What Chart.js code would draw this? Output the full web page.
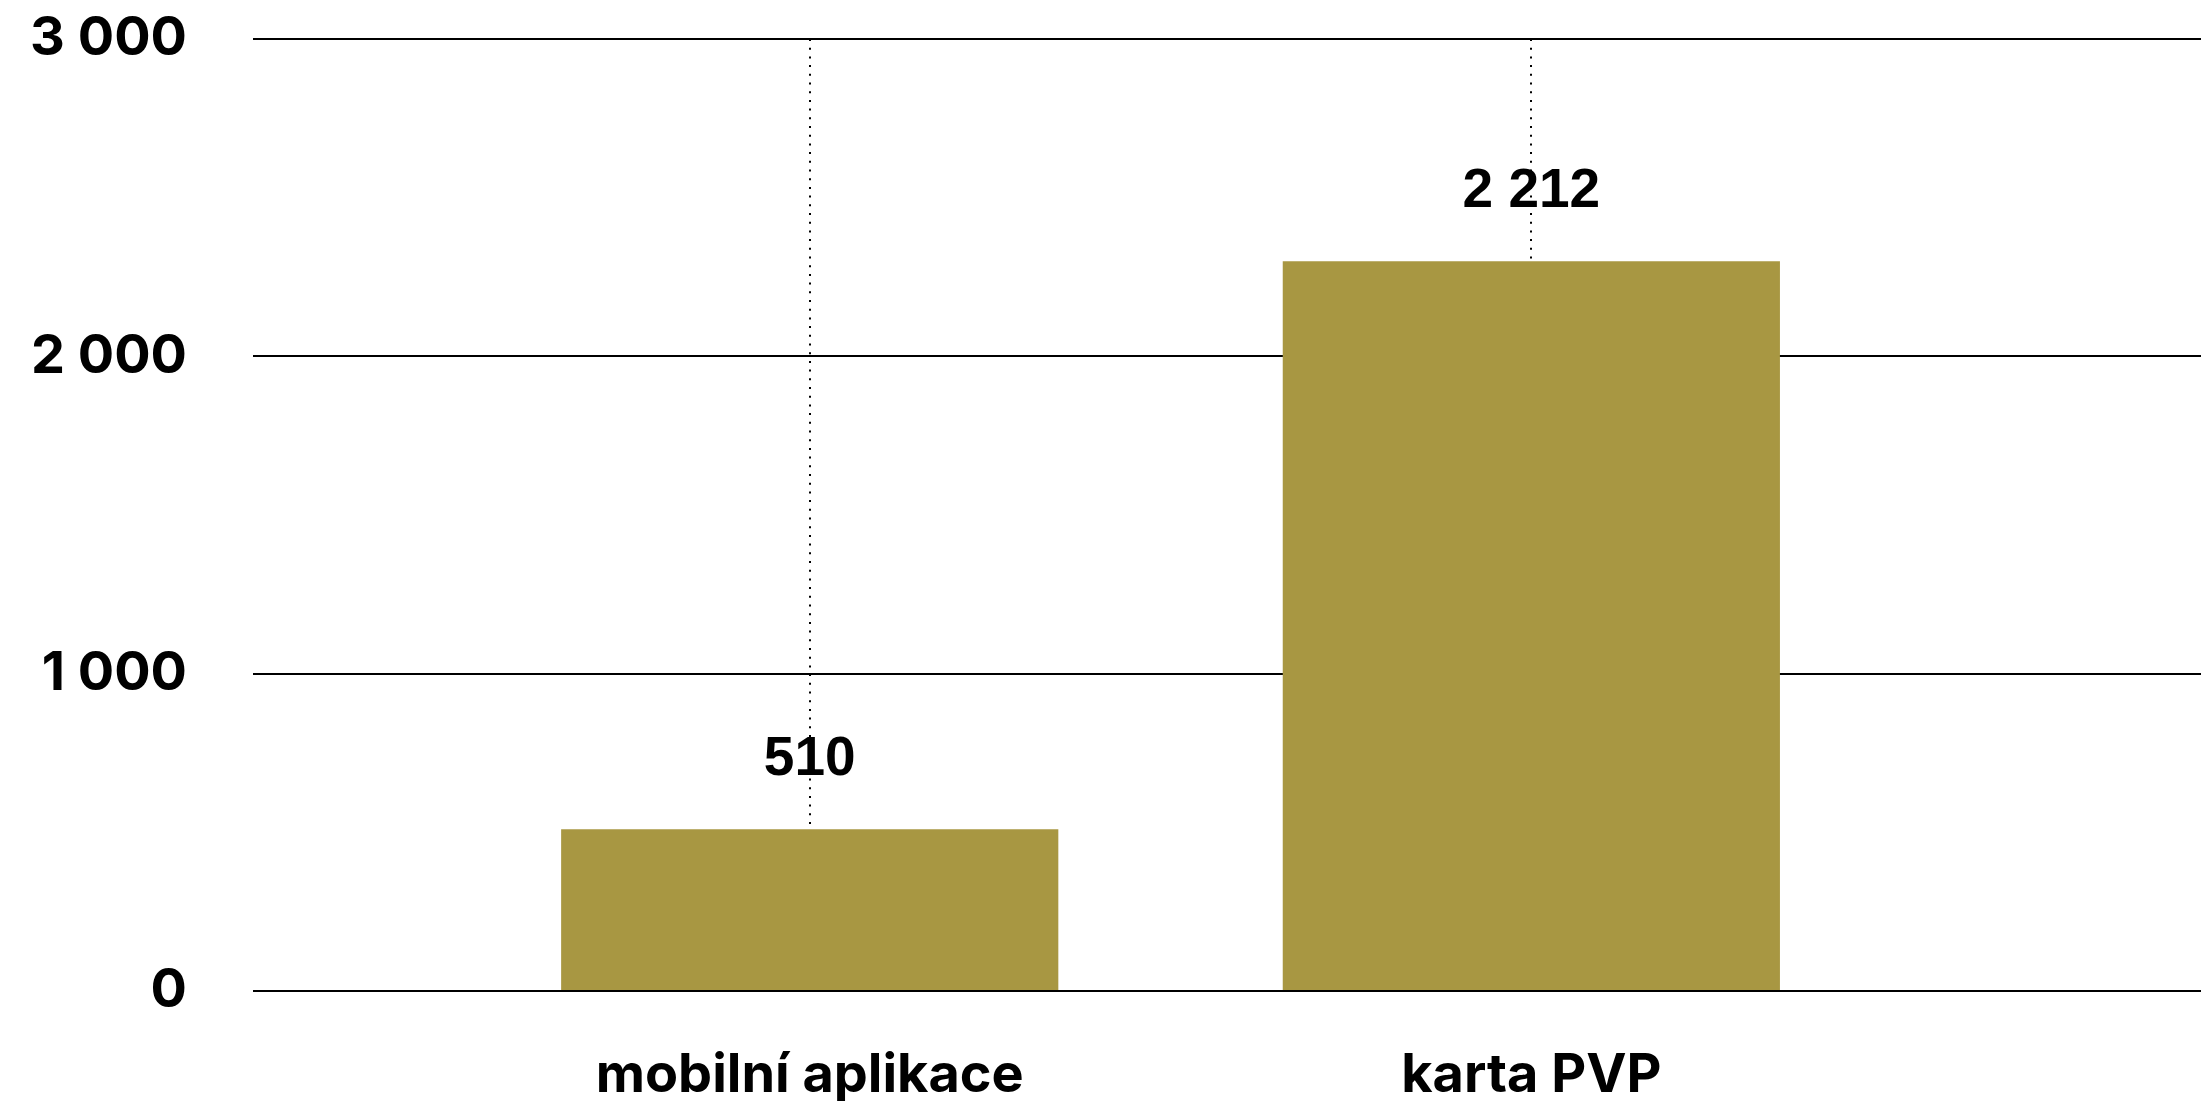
<!DOCTYPE html>
<html>
<head>
<meta charset="utf-8">
<script src="https://cdn.jsdelivr.net/npm/chart.js@4.4.1/dist/chart.umd.min.js"></script>
<style>
	html, body { margin: 0; padding: 0; background: #fff; }
	#wrap { width: 2201px; height: 1101px; position: relative; }
</style>
</head>
<body>
<div id="wrap"><canvas id="channels"></canvas></div>
<script>
const categories = ["mobilní aplikace", "karta PVP"];
const barValues = [510, 2300];
const labelValues = [510, 2212];
const yTicks = [0, 1000, 2000, 3000];

const formatNum = (n) => String(n).replace(/\B(?=(\d{3})+(?!\d))/g, " ");

const valueLabels = {
	id: "valueLabels",
	afterDatasetsDraw(chart) {
		const ctx = chart.ctx;
		const meta = chart.getDatasetMeta(0);
		ctx.save();
		ctx.font = "bold 55px 'Liberation Sans'";
		ctx.fillStyle = "#000";
		ctx.textAlign = "center";
		ctx.textBaseline = "alphabetic";
		meta.data.forEach((bar, i) => {
			ctx.fillText(formatNum(labelValues[i]), bar.x, bar.y - 54);
		});
		ctx.restore();
	},
};

const channelsElem = document.getElementById("channels");

const channels = new Chart(channelsElem, {
	type: "bar",
	data: {
		datasets: [
			{
				data: categories.map((c, i) => ({ x: i + 1, y: barValues[i] })),
				backgroundColor: "#a89742",
				hoverBackgroundColor: "#a89742",
				categoryPercentage: 1,
				barPercentage: 0.689,
			},
		],
	},
	options: {
		responsive: true,
		maintainAspectRatio: false,
		animation: false,
		layout: { padding: { top: 39, left: 0, right: 0, bottom: 0 } },
		plugins: {
			legend: false,
			tooltip: { enabled: false },
		},
		scales: {
			x: {
				type: "linear",
				offset: false,
				min: 0.2285,
				max: 2.928,
				afterFit: (scale) => {
					scale.height = 110;
					scale.paddingLeft = 0;
					scale.paddingRight = 0;
				},
				grid: {
					offset: false,
					color: "#000",
					lineWidth: 2,
					drawTicks: false,
				},
				border: { display: false, dash: [2, 6.7] },
				ticks: {
					stepSize: 1,
					includeBounds: false,
					autoSkip: false,
					maxRotation: 0,
					padding: 52,
					color: "#000",
					font: { family: "Inter", size: 54, weight: "700" },
					callback: (v) => categories[v - 1] ?? "",
				},
			},
			y: {
				min: yTicks[0],
				max: yTicks[yTicks.length - 1],
				afterFit: (scale) => {
					scale.width = 253;
					scale.paddingTop = 0;
					scale.paddingBottom = 0;
				},
				afterBuildTicks: (scale) => {
					scale.ticks = yTicks.map((v) => ({ value: v }));
				},
				grid: {
					color: "#000",
					lineWidth: 2,
					drawTicks: false,
				},
				border: { display: false },
				ticks: {
					padding: 66,
					color: "#000",
					font: { family: "Inter", size: 54, weight: "700" },
					callback: (v) => formatNum(v),
				},
			},
		},
	},
	plugins: [valueLabels],
});
</script>
</body>
</html>
